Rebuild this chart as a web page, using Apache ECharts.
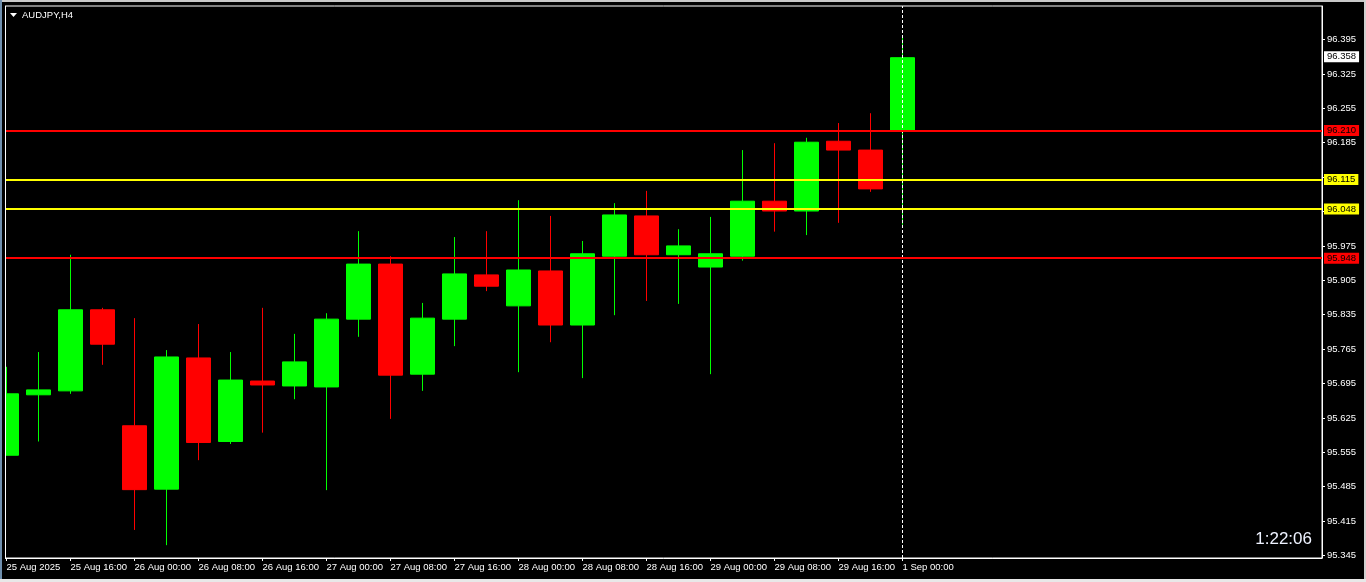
<!DOCTYPE html>
<html>
<head>
<meta charset="utf-8">
<script src="https://cdn.jsdelivr.net/npm/echarts@6/dist/echarts.min.js"></script>
<style>
html,body{margin:0;padding:0;background:#000;}
#chart{width:1366px;height:582px;}
</style>
</head>
<body>
<div id="chart"></div>
<script>
// ---- data ----
const times = [
  '25 Aug 08:00','25 Aug 12:00','25 Aug 16:00','25 Aug 20:00',
  '26 Aug 00:00','26 Aug 04:00','26 Aug 08:00','26 Aug 12:00','26 Aug 16:00','26 Aug 20:00',
  '27 Aug 00:00','27 Aug 04:00','27 Aug 08:00','27 Aug 12:00','27 Aug 16:00','27 Aug 20:00',
  '28 Aug 00:00','28 Aug 04:00','28 Aug 08:00','28 Aug 12:00','28 Aug 16:00','28 Aug 20:00',
  '29 Aug 00:00','29 Aug 04:00','29 Aug 08:00','29 Aug 12:00','29 Aug 16:00','29 Aug 20:00',
  '1 Sep 00:00'
];
const opens  = [95.549,95.672,95.680,95.845,95.609,95.480,95.747,95.577,95.700,95.690,95.688,95.826,95.938,95.714,95.826,95.916,95.853,95.924,95.814,95.954,96.036,95.957,95.932,95.954,96.066,96.046,96.188,96.170,96.209];
const closes = [95.674,95.682,95.845,95.775,95.479,95.749,95.575,95.702,95.692,95.739,95.826,95.938,95.712,95.828,95.918,95.893,95.926,95.814,95.959,96.038,95.957,95.975,95.959,96.066,96.046,96.186,96.170,96.091,96.358];
const lows   = [95.549,95.577,95.674,95.733,95.397,95.366,95.539,95.572,95.595,95.663,95.478,95.790,95.623,95.680,95.771,95.883,95.718,95.779,95.706,95.834,95.863,95.857,95.714,95.945,96.004,95.997,96.022,96.085,96.018];
const highs  = [95.729,95.759,95.957,95.849,95.828,95.763,95.816,95.759,95.849,95.796,95.838,96.005,95.954,95.859,95.993,96.005,96.068,96.036,95.985,96.062,96.087,96.009,96.034,96.170,96.184,96.195,96.225,96.245,96.402];

const xTickIdx    = [0,2,4,6,8,10,12,14,16,18,20,22,24,26,28];
const xTickLabels = ['25 Aug 2025','25 Aug 16:00','26 Aug 00:00','26 Aug 08:00','26 Aug 16:00','27 Aug 00:00','27 Aug 08:00','27 Aug 16:00','28 Aug 00:00','28 Aug 08:00','28 Aug 16:00','29 Aug 00:00','29 Aug 08:00','29 Aug 16:00','1 Sep 00:00'];
const yTicks = [95.345,95.415,95.485,95.555,95.625,95.695,95.765,95.835,95.905,95.975,96.045,96.115,96.185,96.255,96.325,96.395];

const redLevels = [96.210, 95.948];
const yellowLevels = [96.115, 96.048];
const currentPrice = 96.358;
const separatorIndex = 28;
const symbolTitle = 'AUDJPY,H4';
const countdown = '1:22:06';

// ---- build ----
const FONT = 'Liberation Sans';
const candleData = times.map((t, i) => [i, opens[i], closes[i], lows[i], highs[i]]);

function levelLine(v, lineColor, bg, fg) {
  return {
    yAxis: v,
    lineStyle: {color: lineColor, width: 2, type: 'solid'},
    label: {
      show: true, position: 'end', distance: 2,
      formatter: () => v.toFixed(3),
      backgroundColor: bg, color: fg,
      padding: [1, 3, 0, 3],
      fontSize: 9.5, fontFamily: FONT
    }
  };
}

const X_MIN = -1.5 / 32;
const chart = echarts.init(document.getElementById('chart'), null, {renderer: 'canvas'});
const option = {
  animation: false,
  backgroundColor: '#000000',
  grid: {left: 5, top: 6, right: 44, bottom: 24, show: true, borderColor: '#ffffff', borderWidth: 1, backgroundColor: '#000000'},
  xAxis: {
    type: 'value',
    min: X_MIN,
    max: X_MIN + 1317 / 32,
    axisLine: {show: true, onZero: false, lineStyle: {color: '#ffffff', width: 1}},
    axisTick: {show: true, customValues: xTickIdx, length: 3, lineStyle: {color: '#ffffff'}},
    axisLabel: {
      show: true, customValues: xTickIdx, align: 'left', margin: 4,
      color: '#ffffff', fontSize: 9.5, fontFamily: FONT,
      formatter: (v) => xTickLabels[xTickIdx.indexOf(Math.round(v))] || ''
    },
    splitLine: {show: false}
  },
  yAxis: {
    type: 'value',
    position: 'right',
    min: 95.3399,
    max: 96.4632,
    scale: true,
    axisLine: {show: true, onZero: false, lineStyle: {color: '#ffffff', width: 1}},
    axisTick: {show: true, customValues: yTicks, length: 3, lineStyle: {color: '#ffffff'}},
    axisLabel: {
      show: true, customValues: yTicks, margin: 5,
      color: '#ffffff', fontSize: 9.5, fontFamily: FONT,
      formatter: (v) => v.toFixed(3)
    },
    splitLine: {show: false}
  },
  series: [
    {
      type: 'line',
      data: [],
      z: 1,
      silent: true,
      markLine: {
        silent: true,
        symbol: 'none',
        animation: false,
        label: {show: false},
        data: [{xAxis: separatorIndex, lineStyle: {color: '#ffffff', width: 1, type: [3, 2]}}]
      }
    },
    {
      type: 'candlestick',
      z: 2,
      silent: true,
      clip: true,
      barWidth: 24,
      encode: {x: 0, y: [1, 2, 3, 4]},
      data: candleData,
      itemStyle: {
        color: '#00ff00', color0: '#ff0000',
        borderColor: '#00ff00', borderColor0: '#ff0000',
        borderWidth: 1
      },
      emphasis: {disabled: true},
      markLine: {
        silent: true,
        symbol: 'none',
        animation: false,
        data: [
          levelLine(redLevels[0], '#ff0000', '#ff0000', '#000000'),
          levelLine(redLevels[1], '#ff0000', '#ff0000', '#000000'),
          levelLine(yellowLevels[0], '#ffff00', '#ffff00', '#000000'),
          levelLine(yellowLevels[1], '#ffff00', '#ffff00', '#000000'),
          levelLine(currentPrice, 'rgba(0,0,0,0)', '#ffffff', '#000000')
        ]
      }
    }
  ],
  graphic: [
    // cover the part of the first candle that falls left of the plot frame
    {type: 'rect', z: 100, shape: {x: 0, y: 0, width: 5, height: 582}, style: {fill: '#000000'}, silent: true},
    {type: 'rect', z: 101, shape: {x: 5, y: 6, width: 1, height: 552}, style: {fill: '#ffffff'}, silent: true},
    {type: 'rect', z: 101, shape: {x: 0, y: 0, width: 1366, height: 2}, style: {fill: '#c8c8c8'}, silent: true},
    {type: 'rect', z: 101, shape: {x: 0, y: 0, width: 2, height: 582}, style: {fill: '#6f8fae'}, silent: true},
    {type: 'rect', z: 101, shape: {x: 1364, y: 0, width: 2, height: 582}, style: {fill: '#d0d0d0'}, silent: true},
    {type: 'rect', z: 101, shape: {x: 0, y: 579, width: 1366, height: 3}, style: {fill: '#e8e8e8'}, silent: true},
    {type: 'polygon', z: 101, shape: {points: [[10, 13], [17, 13], [13.5, 17]]}, style: {fill: '#ffffff'}, silent: true},
    {type: 'text', z: 101, x: 22, y: 15, style: {text: symbolTitle, fill: '#ffffff', font: '9.5px "Liberation Sans"', textVerticalAlign: 'middle'}, silent: true},
    {type: 'text', z: 101, x: 1312, y: 539, style: {text: countdown, fill: '#eef2ff', font: '17px "Liberation Sans"', textAlign: 'right', textVerticalAlign: 'middle'}, silent: true}
  ]
};
chart.setOption(option);
</script>
</body>
</html>
